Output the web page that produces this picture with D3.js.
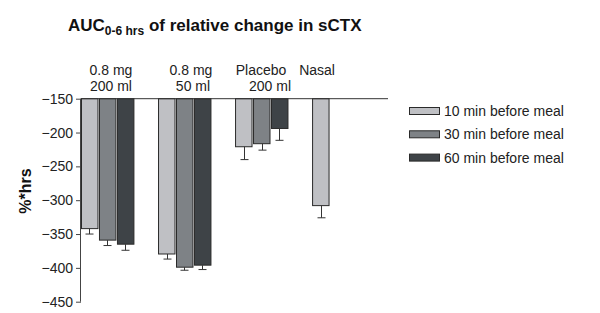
<!DOCTYPE html>
<html><head><meta charset="utf-8">
<script src="https://cdn.jsdelivr.net/npm/d3@7"></script>
<style>body{margin:0;background:#fff;} svg{display:block;font-family:"Liberation Sans",Arial,sans-serif;}</style>
</head><body><svg id="c" width="600" height="313"></svg>
<script>
const groups = ["g1","g2","g3","g4"];
const groupLine1 = ["0.8 mg","0.8 mg","Placebo","Nasal"];
const groupLine2 = ["200 ml","50 ml","200 ml",""];
const seriesNames = ["10 min before meal","30 min before meal","60 min before meal"];
const series10 = [-342, -379.5, -221, -308];
const series30 = [-359, -399, -216.5, null];
const series60 = [-365, -396, -194, null];
const err10 = [8, 7.5, 19, 18];
const err30 = [8, 4.5, 9.5, null];
const err60 = [9, 6.5, 17.5, null];
const yTicks = [-150,-200,-250,-300,-350,-400,-450];
const colors = ["#bfc0c4","#7e8286","#3e4347"];

const values = [series10, series30, series60];
const errs = [err10, err30, err60];
const svg = d3.select("#c");

const y = d3.scaleLinear().domain([-450,-150]).range([301.7,98.7]);
const x0 = d3.scaleBand().domain(groups).range([81,366]).paddingInner(0.3).paddingOuter(0).align(0);
const x1 = d3.scaleBand().domain(d3.range(3)).range([0,x0.bandwidth()]);

// title
const t = svg.append("text").attr("x",68).attr("y",31).attr("font-weight","bold").attr("font-size",17).attr("fill","#111");
t.append("tspan").text("AUC");
t.append("tspan").attr("font-size",12).attr("dy",4).text("0-6 hrs");
t.append("tspan").attr("dy",-4).text(" of relative change in sCTX");

// y axis
const yAxis = d3.axisLeft(y).tickValues(yTicks).tickSize(5).tickPadding(3).tickFormat(d3.format("d"));
const ga = svg.append("g").attr("transform","translate(81,0)").call(yAxis);
ga.selectAll("path,line").attr("stroke","#444");
ga.select(".domain").attr("d",`M-0.5,${y(-150)}V${y(-450)}`);
ga.selectAll("text").attr("font-size",14).attr("fill","#222").attr("font-family","Liberation Sans, Arial, sans-serif");

svg.append("text").attr("transform","translate(31,191) rotate(-90)").attr("text-anchor","middle")
  .attr("font-weight","bold").attr("font-size",16).attr("fill","#111").text("%*hrs");

// bars
values.forEach((vals,si)=>{
  vals.forEach((v,gi)=>{
    if(v==null) return;
    const bx = x0(groups[gi]) + x1(si);
    const bw = x1.bandwidth();
    svg.append("rect").attr("x",bx+0.5).attr("y",y(-150)).attr("width",bw-1.5).attr("height",y(v)-y(-150))
      .attr("fill",colors[si]).attr("stroke","#2a2a2a").attr("stroke-width",1);
    const e = errs[si][gi];
    const cx = Math.round(bx + bw/2 - 0.5) + 0.5;
    svg.append("line").attr("x1",cx).attr("x2",cx).attr("y1",y(v)).attr("y2",y(v-e)).attr("stroke","#333");
    svg.append("line").attr("x1",cx-4).attr("x2",cx+4).attr("y1",y(v-e)).attr("y2",y(v-e)).attr("stroke","#333");
  });
});

// baseline at -150
svg.append("line").attr("x1",81).attr("x2",388).attr("y1",y(-150)).attr("y2",y(-150)).attr("stroke","#333");

// group labels
groups.forEach((g,i)=>{
  const cx = x0(g) + x0.bandwidth()/2;
  const offs = [3,6,-1,-22][i];
  svg.append("text").attr("x",cx+offs).attr("y",75).attr("text-anchor","middle").attr("font-size",14).attr("fill","#222").text(groupLine1[i]);
  if(groupLine2[i]) svg.append("text").attr("x",cx+[3,8,8,0][i]).attr("y",91).attr("text-anchor","middle").attr("font-size",14).attr("fill","#222").text(groupLine2[i]);
});

// legend
seriesNames.forEach((n,i)=>{
  const ly = 111 + i*23.3;
  svg.append("rect").attr("x",409.5).attr("y",ly-3.5).attr("width",30).attr("height",7).attr("fill",colors[i]).attr("stroke","#2a2a2a");
  svg.append("text").attr("x",444).attr("y",ly+5).attr("font-size",14).attr("fill","#222").text(n);
});
</script></body></html>
